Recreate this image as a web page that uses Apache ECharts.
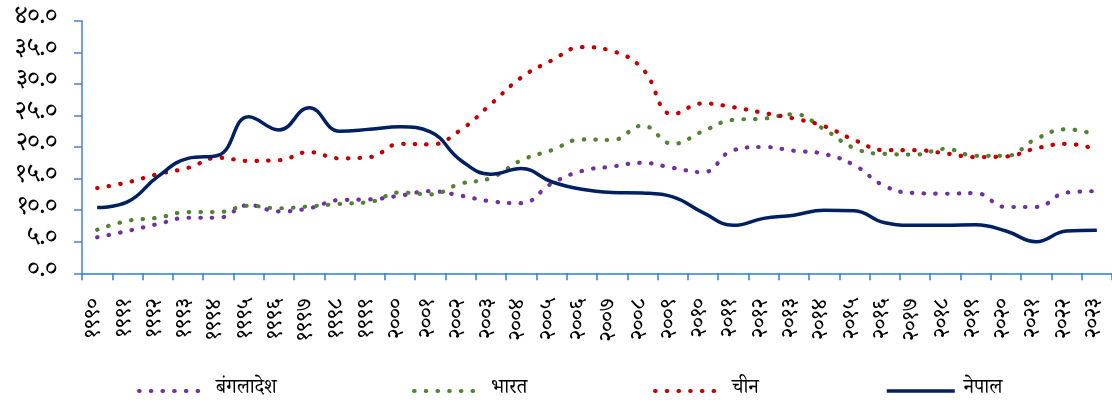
<!DOCTYPE html>
<html>
<head>
<meta charset="utf-8">
<script src="https://cdn.jsdelivr.net/npm/echarts@6/dist/echarts.min.js"></script>
<style>
html,body{margin:0;padding:0;background:#fff;}
#chart{width:1112px;height:408px;}
</style>
</head>
<body>
<div id="chart"></div>
<script>
const years = ['१९९०','१९९१','१९९२','१९९३','१९९४','१९९५','१९९६','१९९७','१९९८','१९९९','२०००','२००१','२००२','२००३','२००४','२००५','२००६','२००७','२००८','२००९','२०१०','२०११','२०१२','२०१३','२०१४','२०१५','२०१६','२०१७','२०१८','२०१९','२०२०','२०२१','२०२२','२०२३'];
const seriesNames = ['बंगलादेश','भारत','चीन','नेपाल'];
const bangladesh = [5.7,6.7,7.8,8.8,8.8,10.8,9.8,10.3,11.6,11.7,12.3,13.0,12.3,11.4,11.1,14.2,16.2,16.9,17.5,16.7,16.0,19.5,20.0,19.4,18.9,17.1,13.8,12.7,12.6,12.7,10.5,10.5,12.8,13.0];
const india = [6.9,8.3,8.8,9.7,9.7,10.7,10.3,10.6,11.0,11.3,12.8,12.5,14.2,15.1,17.9,19.5,21.2,21.1,23.4,20.5,22.5,24.3,24.5,25.2,22.8,19.8,18.9,18.8,19.7,18.6,18.6,21.3,22.8,21.9];
const china = [13.5,14.4,15.7,16.7,18.3,17.8,17.9,19.2,18.2,18.4,20.5,20.4,22.7,26.8,31.0,33.7,35.8,35.2,32.4,25.2,26.9,26.3,25.4,24.5,23.3,21.1,19.5,19.5,19.0,18.4,18.5,19.8,20.5,19.6];
const nepal = [10.4,11.3,15.3,18.2,18.7,24.8,22.7,26.2,22.5,22.8,23.2,22.4,17.9,15.7,16.6,14.5,13.3,12.8,12.7,12.1,9.6,7.6,8.7,9.2,10.0,9.9,8.0,7.6,7.6,7.7,6.7,5.0,6.7,6.8];
const devDigits = ['०','१','२','३','४','५','६','७','८','९'];

function toDev(s){ return String(s).replace(/[0-9]/g, d => devDigits[+d]); }

const FONT = "'Noto Serif Devanagari','Lohit Devanagari','FreeSerif','Noto Sans Devanagari',serif";
const chart = echarts.init(document.getElementById('chart'), null, {renderer:'canvas'});

const colors = ['#7030A0','#548235','#C00000','#002060'];
const legendLeft = [132, 407, 648, 880];
const DOT = {width:4.2, type:[0.5,11.2], cap:'round'};
const SOLID = {width:3.5, type:'solid', cap:'butt'};

function dotted(name, data, color){
  return {
    name, type:'line', data, smooth:0.45, symbol:'none',
    lineStyle:Object.assign({color}, DOT),
    itemStyle:{color}
  };
}

chart.setOption({
  animation:false,
  backgroundColor:'#fff',
  grid:{left:82, top:20.7, width:1033.6, height:252.6, containLabel:false},
  xAxis:{
    type:'category', data:years, boundaryGap:true,
    axisLine:{lineStyle:{color:'#2F7ED6', width:1.5}},
    axisTick:{show:true, alignWithLabel:false, length:7, lineStyle:{color:'#2F7ED6', width:1.5}},
    axisLabel:{rotate:90, margin:25, interval:0, color:'#000', fontSize:22, fontFamily:FONT}
  },
  yAxis:{
    type:'value', min:0, max:40, interval:5,
    splitLine:{show:false},
    axisLine:{show:true, lineStyle:{color:'#4A7FD6', width:1.5}},
    axisTick:{show:true, length:8, lineStyle:{color:'#4A7FD6', width:1.5}},
    axisLabel:{margin:25, color:'#000', fontSize:25, fontFamily:FONT,
      formatter: v => toDev(v.toFixed(1))}
  },
  legend: seriesNames.map((n,i) => ({
    left:legendLeft[i], top:376, itemWidth:68, itemHeight:14,
    itemStyle:{opacity:0},
    lineStyle: Object.assign({color:colors[i]}, i === 3 ? SOLID : DOT),
    textStyle:{fontSize:20, color:'#000', fontFamily:FONT, padding:[0,0,0,4]},
    data:[n]
  })),
  series:[
    dotted(seriesNames[0], bangladesh, colors[0]),
    dotted(seriesNames[1], india, colors[1]),
    dotted(seriesNames[2], china, colors[2]),
    {name:seriesNames[3], type:'line', data:nepal, smooth:0.45, symbol:'none',
     lineStyle:Object.assign({color:colors[3]}, SOLID), itemStyle:{color:colors[3]}}
  ]
});
</script>
</body>
</html>
